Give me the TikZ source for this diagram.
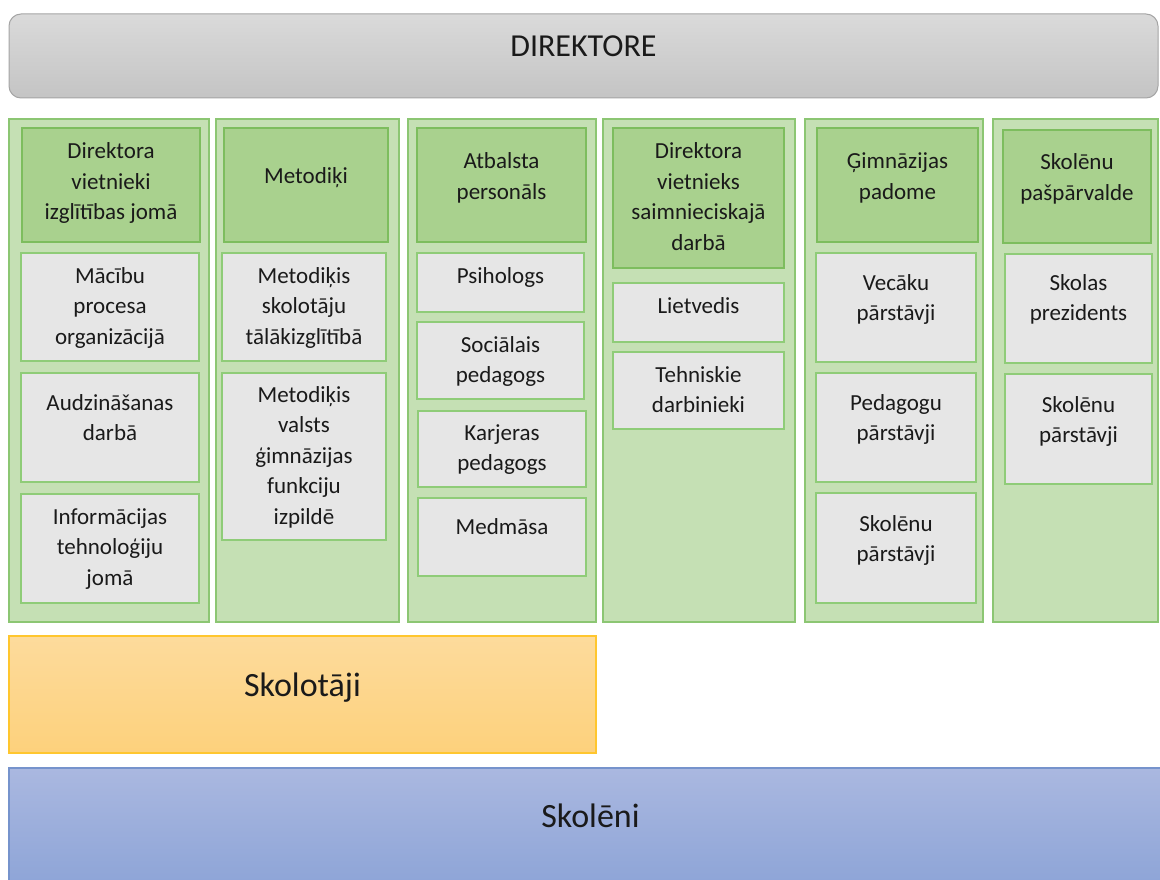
\documentclass[tikz,border=0pt]{standalone}
\usepackage{fontspec}
\setmainfont{Carlito}
\definecolor{colfill}{HTML}{C5E0B4}
\definecolor{coldraw}{HTML}{8CC673}
\definecolor{headfill}{HTML}{A9D18E}
\definecolor{headdraw}{HTML}{7DBD5E}
\definecolor{itemfill}{HTML}{E6E6E6}
\definecolor{itemdraw}{HTML}{8FCC78}
\definecolor{txt}{HTML}{1A1A1A}
\definecolor{dirtop}{HTML}{DADADA}
\definecolor{dirbot}{HTML}{C4C4C4}
\definecolor{dirdraw}{HTML}{A5A5A5}
\definecolor{sktop}{HTML}{FDDB9C}
\definecolor{skbot}{HTML}{FDD17C}
\definecolor{skdraw}{HTML}{FFC62E}
\definecolor{sntop}{HTML}{AAB8E0}
\definecolor{snbot}{HTML}{8AA2D6}
\definecolor{sndraw}{HTML}{7693CC}
\newcommand\smallfont{\fontsize{23}{30.5}\selectfont}
\newcommand\dirfont{\fontsize{32}{38}\selectfont}
\newcommand\bigfont{\fontsize{34}{40}\selectfont}
% #1 name, #2 style, #3 x1, #4 y1, #5 x2, #6 y2, #7 first baseline offset, #8 font, #9 text
\newcommand\obox[9]{%
  \node[#2,anchor=north west,inner sep=0pt,outer sep=0pt] (#1) at (#3,#4)
  {\parbox[t][\dimexpr#6pt-#4pt\relax][t]{\dimexpr#5pt-#3pt\relax}{#8\centering\vspace*{\dimexpr#7pt-30pt\relax}\rule{0pt}{30pt}#9\par}};}
\tikzset{
  colbox/.style={fill=colfill,draw=coldraw,line width=1.3pt},
  headbox/.style={fill=headfill,draw=headdraw,line width=1.3pt,text=txt},
  itembox/.style={fill=itemfill,draw=itemdraw,line width=1.3pt,text=txt},
  dirbox/.style={top color=dirtop,bottom color=dirbot,draw=dirdraw,line width=1pt,rounded corners=12pt,text=txt},
  teachbox/.style={top color=sktop,bottom color=skbot,draw=skdraw,line width=1.2pt,text=txt},
  pupilbox/.style={top color=sntop,bottom color=snbot,draw=sndraw,line width=1.2pt,text=txt},
}
\begin{document}
\begin{tikzpicture}[x=1pt,y=-1pt]
\useasboundingbox (0,0) rectangle (1160,880);
\clip (0,0) rectangle (1160,880);
\fill[white] (0,0) rectangle (1160,880);
% top
\obox{dir}{dirbox}{9}{14}{1158}{98}{43}{\dirfont}{DIREKTORE}
% columns
\obox{c1}{colbox}{9}{119}{209}{622}{30}{\smallfont}{}
\obox{c2}{colbox}{216}{119}{399}{622}{30}{\smallfont}{}
\obox{c3}{colbox}{408}{119}{596}{622}{30}{\smallfont}{}
\obox{c4}{colbox}{603}{119}{795}{622}{30}{\smallfont}{}
\obox{c5}{colbox}{805}{119}{983}{622}{30}{\smallfont}{}
\obox{c6}{colbox}{993}{119}{1158}{622}{30}{\smallfont}{}
% headers
\obox{h1}{headbox}{22}{128}{200}{242}{31}{\smallfont}{Direktora\\vietnieki\\izglītības jomā}
\obox{h2}{headbox}{224}{128}{388}{242}{56}{\smallfont}{Metodiķi}
\obox{h3}{headbox}{417}{128}{586}{242}{41}{\smallfont}{Atbalsta\\personāls}
\obox{h4}{headbox}{613}{128}{784}{268}{31}{\smallfont}{Direktora\\vietnieks\\saimnieciskajā\\darbā}
\obox{h5}{headbox}{817}{128}{978}{242}{41}{\smallfont}{Ģimnāzijas\\padome}
\obox{h6}{headbox}{1003}{130}{1151}{243}{40}{\smallfont}{Skolēnu\\pašpārvalde}
% items
\obox{a1}{itembox}{21}{253}{199}{361}{30}{\smallfont}{Mācību\\procesa\\organizācijā}
\obox{a2}{itembox}{21}{373}{199}{482}{37}{\smallfont}{Audzināšanas\\darbā}
\obox{a3}{itembox}{21}{494}{199}{603}{30}{\smallfont}{Informācijas\\tehnoloģiju\\jomā}
\obox{b1}{itembox}{222}{253}{386}{361}{30}{\smallfont}{Metodiķis\\skolotāju\\tālākizglītībā}
\obox{b2}{itembox}{222}{373}{386}{540}{29}{\smallfont}{Metodiķis\\valsts\\ģimnāzijas\\funkciju\\izpildē}
\obox{d1}{itembox}{417}{253}{584}{312}{30}{\smallfont}{Psihologs}
\obox{d2}{itembox}{417}{322}{584}{399}{30}{\smallfont}{Sociālais\\pedagogs}
\obox{d3}{itembox}{418}{411}{586}{487}{29}{\smallfont}{Karjeras\\pedagogs}
\obox{d4}{itembox}{418}{498}{586}{576}{36}{\smallfont}{Medmāsa}
\obox{e1}{itembox}{613}{283}{784}{342}{30}{\smallfont}{Lietvedis}
\obox{e2}{itembox}{613}{352}{784}{429}{30}{\smallfont}{Tehniskie\\darbinieki}
\obox{f1}{itembox}{816}{253}{976}{362}{37}{\smallfont}{Vecāku\\pārstāvji}
\obox{f2}{itembox}{816}{373}{976}{482}{37}{\smallfont}{Pedagogu\\pārstāvji}
\obox{f3}{itembox}{816}{493}{976}{603}{38}{\smallfont}{Skolēnu\\pārstāvji}
\obox{g1}{itembox}{1005}{254}{1152}{363}{36}{\smallfont}{Skolas\\prezidents}
\obox{g2}{itembox}{1005}{374}{1152}{484}{38}{\smallfont}{Skolēnu\\pārstāvji}
% bottom bands
\obox{sk}{teachbox}{9}{636}{596}{753}{60}{\bigfont}{Skolotāji}
\obox{sn}{pupilbox}{9}{768}{1172}{900}{59}{\bigfont}{Skolēni}
\end{tikzpicture}
\end{document}
